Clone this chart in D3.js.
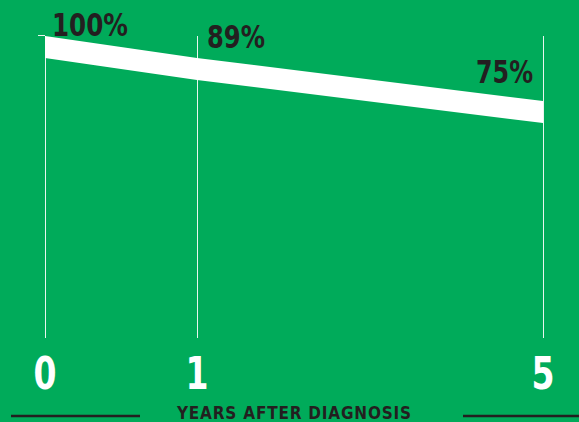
<!DOCTYPE html>
<html>
<head>
<meta charset="utf-8">
<script src="https://cdn.jsdelivr.net/npm/d3@7"></script>
<style>
  html, body { margin: 0; padding: 0; background: #00ab5a; }
  svg { display: block; }
  text { font-family: "DejaVu Sans Condensed", "DejaVu Sans", "Liberation Sans", sans-serif; font-weight: bold; font-stretch: condensed; }
</style>
</head>
<body>
<svg id="chart"></svg>
<script>
// Data
const years = [0, 1, 5];
const survival = [100, 89, 75];
const pctLabels = ["100%", "89%", "75%"];
const tickLabels = ["0", "1", "5"];
const axisTitle = "YEARS AFTER DIAGNOSIS";

const W = 579, H = 422;
const green = "#00ab5a";
const dark = "#231f20";

const svg = d3.select("#chart").attr("width", W).attr("height", H);
svg.append("rect").attr("width", W).attr("height", H).attr("fill", green);

// Scales (piecewise, the original is illustrative, not to scale)
const x = d3.scaleLinear().domain(years).range([45, 197, 543]);
const y = d3.scaleLinear().domain([75, 89, 100]).range([101, 58, 36]);
const bandH = 22;
const gridTop = 36, gridBottom = 338;

const pts = years.map((yr, i) => ({ yr, v: survival[i], label: pctLabels[i], tick: tickLabels[i] }));

// vertical guide lines
svg.selectAll(".guide")
  .data(pts)
  .join("line")
  .attr("class", "guide")
  .attr("x1", d => x(d.yr) + 0.5)
  .attr("x2", d => x(d.yr) + 0.5)
  .attr("y1", gridTop)
  .attr("y2", gridBottom)
  .attr("stroke", "#e8f5ee")
  .attr("stroke-width", 1);

// small tick at top left
svg.append("line")
  .attr("x1", 38).attr("x2", 45)
  .attr("y1", gridTop - 0.5).attr("y2", gridTop - 0.5)
  .attr("stroke", "#e8f5ee").attr("stroke-width", 1);

// white band
const area = d3.area()
  .x(d => x(d.yr))
  .y0(d => y(d.v))
  .y1(d => y(d.v) + bandH);

svg.append("path")
  .datum(pts)
  .attr("d", area)
  .attr("fill", "#ffffff");

// percentage labels
const labelPos = [
  { dx: 7, dy: 0, anchor: "start", len: 76 },
  { dx: 10, dy: -10, anchor: "start", len: 58 },
  { dx: -10, dy: -18, anchor: "end", len: 57 }
];
svg.selectAll(".pct")
  .data(pts)
  .join("text")
  .attr("class", "pct")
  .attr("x", (d, i) => x(d.yr) + labelPos[i].dx)
  .attr("y", (d, i) => y(d.v) + labelPos[i].dy)
  .attr("text-anchor", (d, i) => labelPos[i].anchor)
  .attr("font-size", 32)
  .attr("fill", dark)
  .attr("textLength", (d, i) => labelPos[i].len)
  .attr("lengthAdjust", "spacingAndGlyphs")
  .text(d => d.label);

// x tick labels
svg.selectAll(".tick-label")
  .data(pts)
  .join("text")
  .attr("class", "tick-label")
  .attr("x", d => x(d.yr))
  .attr("y", 389)
  .attr("text-anchor", "middle")
  .attr("font-size", 45)
  .attr("fill", "#ffffff")
  .attr("textLength", 23)
  .attr("lengthAdjust", "spacingAndGlyphs")
  .text(d => d.tick);

// axis title with side rules
svg.append("text")
  .attr("x", 177)
  .attr("y", 419)
  .attr("font-size", 17)
  .attr("fill", dark)
  .attr("textLength", 234)
  .attr("lengthAdjust", "spacing")
  .text(axisTitle);

svg.append("line")
  .attr("x1", 11).attr("x2", 140)
  .attr("y1", 416).attr("y2", 416)
  .attr("stroke", dark).attr("stroke-width", 2.5);
svg.append("line")
  .attr("x1", 463).attr("x2", 579)
  .attr("y1", 416).attr("y2", 416)
  .attr("stroke", dark).attr("stroke-width", 2.5);
</script>
</body>
</html>
